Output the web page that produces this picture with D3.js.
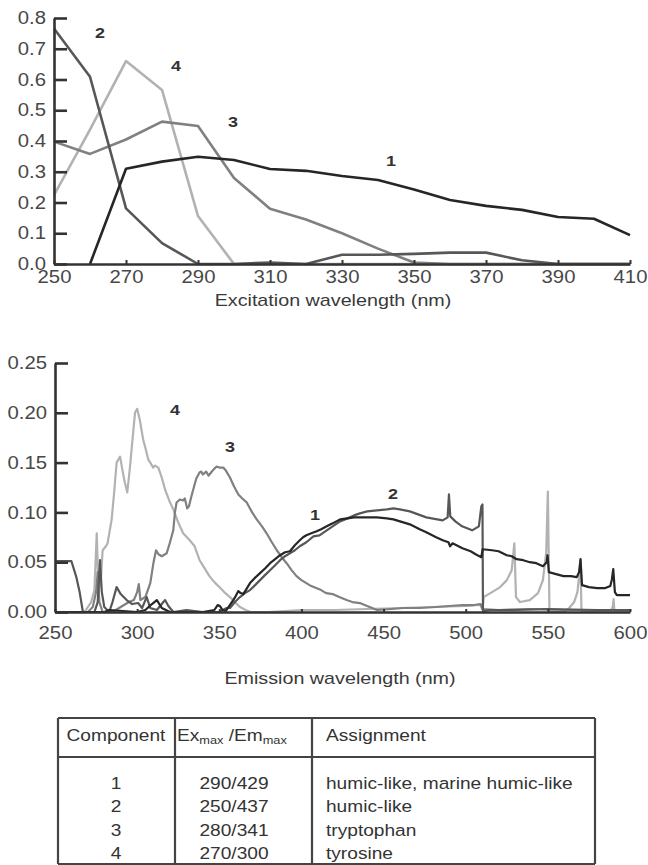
<!DOCTYPE html>
<html>
<head>
<meta charset="utf-8">
<script src="https://cdn.jsdelivr.net/npm/d3@7"></script>
<style>
  html, body { margin: 0; padding: 0; background: #ffffff; }
  svg { display: block; font-family: "Liberation Sans", Arial, sans-serif; }
</style>
</head>
<body>
<svg id="fig" width="648" height="865"></svg>
<script>
// ---------- Excitation loadings (10 nm steps) ----------
const exNm  = [250, 260, 270, 280, 290, 300, 310, 320, 330, 340, 350, 360, 370, 380, 390, 400, 410];
const ex1   = [null, 0, 0.31, 0.333, 0.349, 0.338, 0.309, 0.303, 0.286, 0.273, 0.242, 0.208, 0.189, 0.176, 0.153, 0.147, 0.094];
const ex2   = [0.766, 0.609, 0.181, 0.068, 0, 0, 0.005, 0, 0.03, 0.03, 0.033, 0.037, 0.037, 0.012, 0, 0, 0];
const ex3   = [0.398, 0.358, 0.405, 0.463, 0.449, 0.28, 0.18, 0.145, 0.1, 0.05, 0.005, 0, 0, 0, 0, 0, 0];
const ex4   = [0.224, 0.437, 0.66, 0.566, 0.156, 0, 0, 0, 0, 0, 0, 0, 0, 0, 0, 0, 0];
const exXTicks = [250, 270, 290, 310, 330, 350, 370, 390, 410];
const exYTicks = [0, 0.1, 0.2, 0.3, 0.4, 0.5, 0.6, 0.7, 0.8];

// ---------- Emission loadings ----------
const em1Nm  = [250, 280, 283, 300, 305, 309, 312, 315, 320, 340, 347, 349, 350.4, 352, 354, 356, 358.5, 360, 361.6, 363, 364.6, 366.5, 368.7, 371.5, 374.8, 378, 380.9, 384, 387, 390, 393, 396, 399, 401, 403, 406, 409.3, 412, 415.4, 419, 423.5, 428, 432, 435.6, 440, 446, 452, 456, 460, 466, 472, 476, 482, 486, 489.5, 490.5, 492, 498, 503, 506, 509.5, 510.3, 516, 520, 525, 528, 531, 535, 539, 543, 547, 549.3, 549.8, 550.6, 555, 559.5, 564, 567.6, 569, 569.9, 570.8, 575, 580, 585, 588, 589, 589.8, 590.8, 592, 600];
const em1Val = [0, 0, 0.002, 0, 0.002, 0.008, 0.012, 0.004, 0, 0, 0.002, 0.007, 0.006, 0.002, 0.001, 0.006, 0.012, 0.016, 0.021, 0.019, 0.018, 0.023, 0.029, 0.034, 0.039, 0.044, 0.049, 0.053, 0.057, 0.06, 0.061, 0.067, 0.072, 0.075, 0.077, 0.079, 0.081, 0.083, 0.086, 0.089, 0.093, 0.094, 0.095, 0.095, 0.095, 0.095, 0.094, 0.093, 0.091, 0.088, 0.083, 0.08, 0.075, 0.072, 0.07, 0.066, 0.069, 0.064, 0.061, 0.058, 0.055, 0.063, 0.062, 0.061, 0.057, 0.056, 0.053, 0.052, 0.05, 0.049, 0.046, 0.05, 0.057, 0.04, 0.038, 0.036, 0.036, 0.035, 0.04, 0.053, 0.027, 0.025, 0.024, 0.024, 0.026, 0.033, 0.043, 0.02, 0.017, 0.017];

const em2Nm  = [250, 255, 260, 263, 265, 267, 270, 274, 276, 277.4, 278.5, 280, 283, 285, 287.5, 290, 293.6, 297, 300.6, 303, 305.8, 308, 312, 315, 317, 319, 322, 330, 340, 350, 354.5, 356.5, 359.5, 362.6, 365.6, 368.7, 371.8, 374.8, 377.8, 380.9, 384, 387, 390, 393, 396, 399, 403, 407.3, 411, 415.4, 419, 423.5, 428, 432, 435.6, 440, 446, 452, 456, 460, 466, 476, 486, 489, 489.8, 490.6, 493.7, 497.8, 503.9, 508, 509.5, 510.2, 510.5, 515, 530, 550, 580, 600];
const em2Val = [0.051, 0.051, 0.051, 0.035, 0.02, 0, 0, 0, 0.01, 0.052, 0.02, 0.005, 0, 0.01, 0.025, 0.018, 0.012, 0.008, 0.009, 0.004, 0.015, 0.004, 0.002, 0.008, 0.012, 0.006, 0, 0.002, 0, 0, 0.004, 0.004, 0.01, 0.015, 0.019, 0.022, 0.027, 0.032, 0.037, 0.042, 0.047, 0.052, 0.056, 0.059, 0.062, 0.066, 0.07, 0.076, 0.077, 0.082, 0.086, 0.091, 0.094, 0.097, 0.099, 0.101, 0.102, 0.103, 0.104, 0.103, 0.101, 0.095, 0.092, 0.095, 0.118, 0.096, 0.091, 0.086, 0.082, 0.086, 0.106, 0.108, 0.001, 0.002, 0.002, 0.003, 0.002, 0.002];

const em3Nm  = [250, 270, 273, 275, 276, 277, 279, 285, 290, 295, 298, 300, 301, 302, 305, 308, 310, 311.5, 313, 315, 318, 320, 322, 323, 324, 326, 328, 329, 330.5, 331.5, 333, 334.5, 336, 338, 339, 340, 342, 343.5, 345, 347, 348.4, 350, 352.4, 354, 356.5, 359, 361.6, 364, 366.7, 370, 372.8, 376, 378.8, 382, 385, 388, 391, 394, 397, 400, 403, 406, 409, 412, 415, 419, 423, 427.5, 431, 435.6, 440, 446, 455, 462, 472, 482, 490, 498, 505, 509, 510, 520, 540, 560, 580, 600];
const em3Val = [0, 0, 0.005, 0.02, 0.04, 0.01, 0, 0, 0.005, 0.01, 0.012, 0.02, 0.028, 0.012, 0.015, 0.029, 0.05, 0.062, 0.058, 0.056, 0.059, 0.07, 0.082, 0.1, 0.11, 0.113, 0.112, 0.114, 0.104, 0.106, 0.116, 0.125, 0.134, 0.14, 0.141, 0.138, 0.141, 0.137, 0.14, 0.144, 0.146, 0.145, 0.145, 0.142, 0.135, 0.126, 0.118, 0.114, 0.11, 0.1, 0.093, 0.086, 0.079, 0.07, 0.062, 0.055, 0.049, 0.042, 0.036, 0.032, 0.029, 0.026, 0.024, 0.022, 0.019, 0.018, 0.015, 0.012, 0.01, 0.009, 0.006, 0.002, 0.003, 0.004, 0.004, 0.005, 0.006, 0.007, 0.007, 0.008, 0.003, 0.002, 0.003, 0.002, 0.002, 0.002];

const em4Nm  = [268, 272, 274, 275.4, 276.5, 278, 279, 281, 282, 284.5, 286, 287.5, 289.6, 291, 292.5, 294, 295.6, 297, 298.7, 300, 301.6, 303.7, 305, 306.8, 308, 309.8, 311, 312.9, 315, 317, 319.5, 322, 325, 328, 332, 335, 338, 341, 344, 347, 350, 353, 356.5, 360, 362.6, 366, 369, 380, 400, 420, 440, 460, 480, 500, 508, 510.5, 511, 515, 521, 525, 528, 529.6, 530.6, 533, 539, 544, 547, 549, 550, 551, 555, 560, 563, 566, 568, 569.3, 569.8, 570.5, 580, 588, 589.5, 590, 590.5, 592, 600];
const em4Val = [0, 0.01, 0.022, 0.079, 0.02, 0.035, 0.062, 0.066, 0.069, 0.093, 0.12, 0.15, 0.156, 0.143, 0.13, 0.12, 0.145, 0.17, 0.2, 0.204, 0.193, 0.173, 0.165, 0.153, 0.15, 0.145, 0.147, 0.145, 0.135, 0.123, 0.112, 0.103, 0.09, 0.079, 0.072, 0.066, 0.052, 0.044, 0.036, 0.03, 0.025, 0.02, 0.015, 0.009, 0.005, 0.002, 0, 0, 0.002, 0.002, 0.003, 0.004, 0.005, 0.006, 0.007, 0.007, 0.015, 0.019, 0.025, 0.032, 0.042, 0.069, 0.015, 0.01, 0.012, 0.019, 0.032, 0.06, 0.121, 0, 0, 0, 0.004, 0.01, 0.02, 0.04, 0.052, 0, 0, 0, 0.005, 0.013, 0, 0, 0];

const emXTicks = [250, 300, 350, 400, 450, 500, 550, 600];
const emYTicks = [0, 0.05, 0.10, 0.15, 0.20, 0.25];

// ---------- Component table ----------
const compIds     = ["1", "2", "3", "4"];
const compPeaks   = ["290/429", "250/437", "280/341", "270/300"];
const compAssign  = ["humic-like, marine humic-like", "humic-like", "tryptophan", "tyrosine"];

// ---------- Drawing ----------
const svg = d3.select("#fig");
const STRETCH = 1.16;                 // horizontal widening applied to all text
const INK = "#3a3a3a";
const TICK_TEXT = "#484848";
const seriesColor = { "1": "#262626", "2": "#575757", "3": "#808080", "4": "#b2b2b2" };
const zip = (xs, ys) => xs.map((x, i) => [x, ys[i]]);

function styleAxis(g, tickWidth) {
  g.attr("font-size", null).attr("font-family", null);
  g.select(".domain").attr("stroke", "#333").attr("stroke-width", 2.6);
  g.selectAll(".tick line").attr("stroke", "#333").attr("stroke-width", tickWidth);
  g.selectAll(".tick text").attr("fill", TICK_TEXT).style("font-size", "17.5px");
}

function drawPanel(cfg) {
  const g = svg.append("g");
  const x = d3.scaleLinear().domain(cfg.xDomain).range(cfg.xRange);
  const y = d3.scaleLinear().domain(cfg.yDomain).range(cfg.yRange);
  const line = d3.line()
    .defined(d => d[1] != null)
    .x(d => x(d[0]))
    .y(d => y(d[1]));

  // series, lightest first so the dark curves sit on top
  cfg.series.forEach(s => {
    g.append("path")
      .datum(s.points)
      .attr("fill", "none")
      .attr("stroke", seriesColor[s.id])
      .attr("stroke-width", cfg.lineWidth)
      .attr("stroke-linejoin", "round")
      .attr("d", line);
  });

  const gx = g.append("g")
    .attr("transform", `translate(0,${cfg.yRange[0]})`)
    .call(d3.axisBottom(x).tickValues(cfg.xTicks).tickFormat(d3.format("d"))
      .tickSize(-cfg.xTickLen).tickSizeOuter(0).tickPadding(cfg.xPad));
  styleAxis(gx, 2);

  const gy = g.append("g")
    .attr("transform", `translate(${cfg.xRange[0]},0)`)
    .call(d3.axisLeft(y).tickValues(cfg.yTicks).tickFormat(d3.format(cfg.yFormat))
      .tickSize(-13).tickSizeOuter(0).tickPadding(8));
  styleAxis(gy, 2.6);

  // component numbers placed in data coordinates
  cfg.labels.forEach(l => {
    g.append("text")
      .attr("x", x(l.at[0])).attr("y", y(l.at[1]))
      .attr("dy", "0.35em")
      .attr("text-anchor", "middle")
      .attr("font-weight", "bold")
      .attr("font-size", 15.5)
      .attr("fill", "#333")
      .text(l.id);
  });

  g.append("text")
    .attr("x", cfg.titlePos[0]).attr("y", cfg.titlePos[1])
    .attr("text-anchor", "middle")
    .attr("font-size", 17)
    .attr("fill", INK)
    .text(cfg.title);
}

drawPanel({
  xDomain: [250, 410], xRange: [54, 630],
  yDomain: [0, 0.8],   yRange: [264, 18],
  xTicks: exXTicks, yTicks: exYTicks, yFormat: ".1f",
  xTickLen: 4, xPad: 7, lineWidth: 2.6,
  series: [
    { id: "4", points: zip(exNm, ex4) },
    { id: "3", points: zip(exNm, ex3) },
    { id: "2", points: zip(exNm, ex2) },
    { id: "1", points: zip(exNm, ex1) }
  ],
  labels: [
    { id: "2", at: [262.8, 0.752] },
    { id: "4", at: [283.9, 0.644] },
    { id: "3", at: [299.7, 0.462] },
    { id: "1", at: [343.6, 0.335] }
  ],
  title: "Excitation wavelength (nm)", titlePos: [333, 306]
});

drawPanel({
  xDomain: [250, 600], xRange: [55, 630],
  yDomain: [0, 0.25],  yRange: [612, 363],
  xTicks: emXTicks, yTicks: emYTicks, yFormat: ".2f",
  xTickLen: 3, xPad: 15, lineWidth: 2.2,
  series: [
    { id: "4", points: zip(em4Nm, em4Val) },
    { id: "3", points: zip(em3Nm, em3Val) },
    { id: "2", points: zip(em2Nm, em2Val) },
    { id: "1", points: zip(em1Nm, em1Val) }
  ],
  labels: [
    { id: "4", at: [323, 0.203] },
    { id: "3", at: [356.5, 0.166] },
    { id: "1", at: [408.2, 0.098] },
    { id: "2", at: [455.7, 0.119] }
  ],
  title: "Emission wavelength (nm)", titlePos: [340, 684]
});

// ---------- Table ----------
const table = svg.append("g").attr("fill", "#333").attr("font-size", 16.5);
const colX = [58, 175, 312, 595];
const rowY = { top: 718, head: 757, bottom: 864 };

[[colX[0], rowY.top, colX[3], rowY.top],
 [colX[0], rowY.head, colX[3], rowY.head],
 [colX[0], rowY.bottom, colX[3], rowY.bottom],
 ...colX.map(cx => [cx, rowY.top, cx, rowY.bottom])
].forEach(([x1, y1, x2, y2]) => {
  table.append("line").attr("x1", x1).attr("y1", y1).attr("x2", x2).attr("y2", y2)
    .attr("stroke", "#444").attr("stroke-width", 2.2);
});

table.append("text").attr("x", 116).attr("y", 741).attr("text-anchor", "middle").text("Component");
const hdr = table.append("text").attr("x", 177).attr("y", 741);
hdr.append("tspan").text("Ex");
hdr.append("tspan").attr("font-size", 11).attr("dy", 3).text("max");
hdr.append("tspan").attr("dy", -3).text(" /Em");
hdr.append("tspan").attr("font-size", 11).attr("dy", 3).text("max");
table.append("text").attr("x", 326).attr("y", 741).text("Assignment");

const rowBase = [789, 812, 836, 859];
compIds.forEach((id, i) => {
  table.append("text").attr("x", 116).attr("y", rowBase[i]).attr("text-anchor", "middle").text(id);
  table.append("text").attr("x", 234).attr("y", rowBase[i]).attr("text-anchor", "middle").text(compPeaks[i]);
  table.append("text").attr("x", 326).attr("y", rowBase[i]).text(compAssign[i]);
});

// widen every label slightly about its own anchor point
svg.selectAll("text").each(function () {
  const t = d3.select(this);
  const x0 = +(t.attr("x") || 0);
  t.attr("transform", `translate(${x0 * (1 - STRETCH)},0) scale(${STRETCH},1)`);
});
</script>
</body>
</html>
